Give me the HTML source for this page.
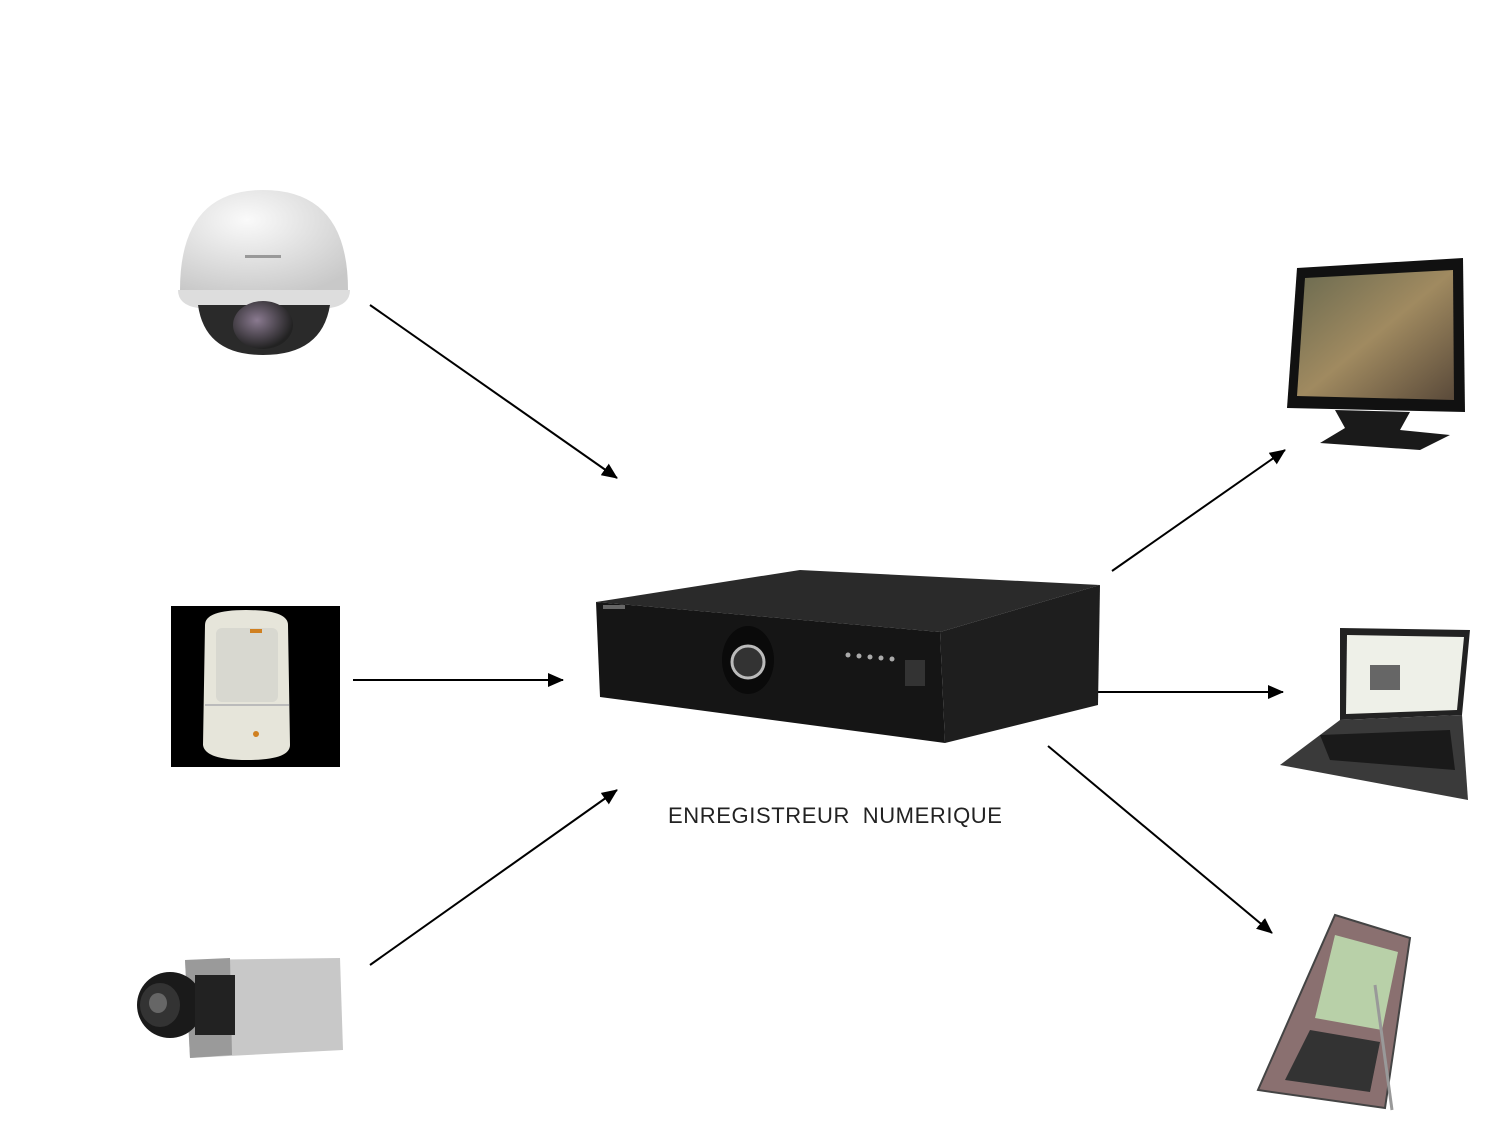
<!DOCTYPE html>
<html><head><style>
html,body{margin:0;padding:0;background:#fff;}
svg{display:block;}
</style></head><body>
<svg width="1491" height="1124" viewBox="0 0 1491 1124" xmlns="http://www.w3.org/2000/svg">
<defs>
<marker id="ah" markerWidth="16" markerHeight="14" refX="15" refY="7" orient="auto" markerUnits="userSpaceOnUse" viewBox="0 0 16 14">
<path d="M0,0 L16,7 L0,14 z" fill="#000"/></marker>
<radialGradient id="dome" cx="0.4" cy="0.3" r="0.8"><stop offset="0" stop-color="#fafafa"/><stop offset="1" stop-color="#c8c8c8"/></radialGradient>
<radialGradient id="lens" cx="0.4" cy="0.4" r="0.6"><stop offset="0" stop-color="#8a7a90"/><stop offset="1" stop-color="#222"/></radialGradient>
<linearGradient id="scr" x1="0" y1="0" x2="1" y2="1"><stop offset="0" stop-color="#6a6a50"/><stop offset="0.5" stop-color="#a08a60"/><stop offset="1" stop-color="#5a4a3a"/></linearGradient>
</defs>

<g stroke="#000" stroke-width="2" fill="none">
<line x1="370" y1="305" x2="617" y2="478" marker-end="url(#ah)"/>
<line x1="353" y1="680" x2="563" y2="680" marker-end="url(#ah)"/>
<line x1="370" y1="965" x2="617" y2="790" marker-end="url(#ah)"/>
<line x1="1112" y1="571" x2="1285" y2="450" marker-end="url(#ah)"/>
<line x1="1095" y1="692" x2="1283" y2="692" marker-end="url(#ah)"/>
<line x1="1048" y1="746" x2="1272" y2="933" marker-end="url(#ah)"/>
</g>

<!-- dome camera -->
<path d="M180,290 Q180,190 263,190 Q348,190 348,290 Z" fill="url(#dome)"/>
<path d="M178,290 L350,290 Q350,305 330,308 L198,308 Q178,305 178,290Z" fill="#ddd"/>
<path d="M198,305 Q205,355 263,355 Q322,355 330,305 Z" fill="#2a2a2a"/>
<ellipse cx="263" cy="325" rx="30" ry="24" fill="url(#lens)"/>
<rect x="245" y="255" width="36" height="3" fill="#999"/>

<!-- PIR -->
<rect x="171" y="606" width="169" height="161" fill="#000"/>
<path d="M205,625 Q205,610 246,610 Q288,610 288,625 L290,745 Q290,760 247,760 Q205,760 203,745 Z" fill="#e6e5da"/>
<rect x="216" y="628" width="62" height="74" rx="6" fill="#d8d8d0"/>
<line x1="205" y1="705" x2="289" y2="705" stroke="#bbb" stroke-width="2"/>
<circle cx="256" cy="734" r="3" fill="#d08020"/>
<rect x="250" y="629" width="12" height="4" fill="#d08020"/>

<!-- box camera -->
<path d="M185,960 L340,958 L343,1050 L190,1058 Z" fill="#c8c8c8"/>
<path d="M185,960 L230,958 L232,1055 L190,1058 Z" fill="#9a9a9a"/>
<ellipse cx="170" cy="1005" rx="33" ry="33" fill="#1a1a1a"/>
<ellipse cx="160" cy="1005" rx="20" ry="22" fill="#333"/>
<ellipse cx="158" cy="1003" rx="9" ry="10" fill="#666"/>
<rect x="195" y="975" width="40" height="60" fill="#222"/>

<!-- DVR -->
<polygon points="596,602 800,570 1100,585 940,632" fill="#2a2a2a"/>
<polygon points="596,602 940,632 945,743 600,697" fill="#151515"/>
<polygon points="940,632 1100,585 1098,705 945,743" fill="#1e1e1e"/>
<ellipse cx="748" cy="660" rx="26" ry="34" fill="#0a0a0a"/>
<circle cx="748" cy="662" r="16" fill="#333" stroke="#bbb" stroke-width="3"/>
<rect x="603" y="605" width="22" height="4" fill="#666"/>
<rect x="905" y="660" width="20" height="26" fill="#333"/>
<g fill="#aaa"><circle cx="848" cy="655" r="2.5"/><circle cx="859" cy="656" r="2.5"/><circle cx="870" cy="657" r="2.5"/><circle cx="881" cy="658" r="2.5"/><circle cx="892" cy="659" r="2.5"/></g>

<text x="668" y="823" font-family="'Liberation Sans',sans-serif" font-size="22" letter-spacing="0.6" word-spacing="6" fill="#222">ENREGISTREUR NUMERIQUE</text>

<!-- monitor -->
<polygon points="1297,268 1463,258 1465,412 1287,408" fill="#111"/>
<polygon points="1305,278 1453,270 1454,400 1297,396" fill="url(#scr)"/>
<polygon points="1335,410 1410,412 1400,430 1450,435 1420,450 1320,443 1345,428" fill="#1a1a1a"/>

<!-- laptop -->
<polygon points="1340,628 1470,630 1462,715 1340,720" fill="#222"/>
<polygon points="1347,635 1464,637 1457,710 1346,714" fill="#eef0e8"/>
<rect x="1370" y="665" width="30" height="25" fill="#666"/>
<polygon points="1340,720 1462,715 1468,800 1280,765" fill="#3a3a3a"/>
<polygon points="1320,735 1450,730 1455,770 1330,760" fill="#1a1a1a"/>

<!-- phone -->
<polygon points="1335,915 1410,938 1385,1108 1258,1090" fill="#8a7070" stroke="#444" stroke-width="2"/>
<polygon points="1335,935 1398,952 1382,1030 1315,1018" fill="#b8d0a8"/>
<polygon points="1310,1030 1380,1042 1370,1092 1285,1080" fill="#333"/>
<line x1="1375" y1="985" x2="1392" y2="1110" stroke="#999" stroke-width="3"/>
</svg>
</body></html>
